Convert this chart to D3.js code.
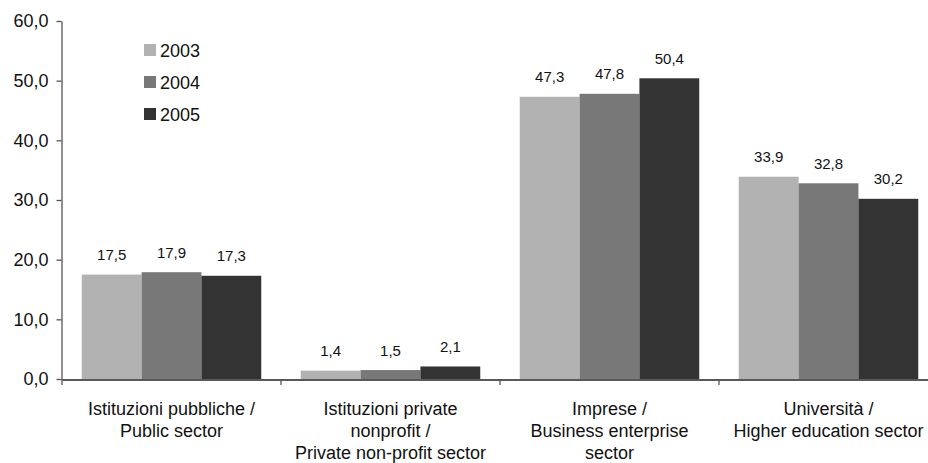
<!DOCTYPE html>
<html>
<head>
<meta charset="utf-8">
<script src="https://cdn.jsdelivr.net/npm/d3@7"></script>
<style>
  html, body { margin: 0; padding: 0; background: #fff; }
  svg { display: block; font-family: "Liberation Sans", Arial, sans-serif; }
</style>
</head>
<body>
<svg id="chart" width="928" height="463"></svg>
<script>
const categories = [
  ["Istituzioni pubbliche /", "Public sector"],
  ["Istituzioni private", "nonprofit /", "Private non-profit sector"],
  ["Imprese /", "Business enterprise", "sector"],
  ["Università /", "Higher education sector"]
];
const years = ["2003", "2004", "2005"];
const values2003 = [17.5, 1.4, 47.3, 33.9];
const values2004 = [17.9, 1.5, 47.8, 32.8];
const values2005 = [17.3, 2.1, 50.4, 30.2];
const yTicks = [0, 10, 20, 30, 40, 50, 60];
const colors = ["#b2b2b2", "#787878", "#333333"];

(function () {
const series = [values2003, values2004, values2005];
const catKeys = categories.map((c, i) => i);

const svg = d3.select("#chart");
const mLeft = 62, mRight = 938, mTop = 21, mBottom = 379;

const x0 = d3.scaleBand().domain(catKeys).range([mLeft, mRight]).padding(0);
const x1 = d3.scaleBand().domain(years).range([0, x0.bandwidth()]).paddingInner(0).paddingOuter(0.33);
const y = d3.scaleLinear().domain([0, 60]).range([mBottom, mTop]);

const fmt = d => d.toFixed(1).replace(".", ",");

// bars
years.forEach((yr, si) => {
  svg.append("g").selectAll("rect")
    .data(catKeys)
    .join("rect")
    .attr("x", c => x0(c) + x1(yr))
    .attr("y", c => y(series[si][c]))
    .attr("width", x1.bandwidth())
    .attr("height", c => y(0) - y(series[si][c]))
    .attr("fill", colors[si]);
  svg.append("g").selectAll("text")
    .data(catKeys)
    .join("text")
    .attr("x", c => x0(c) + x1(yr) + x1.bandwidth() / 2)
    .attr("y", c => y(series[si][c]) - 14.5)
    .attr("text-anchor", "middle")
    .attr("font-size", 15)
    .attr("fill", "#111")
    .text(c => fmt(series[si][c]));
});

// y axis
const yAxis = svg.append("g")
  .attr("transform", `translate(${mLeft - 0.5},0)`)
  .call(d3.axisLeft(y).tickValues(yTicks).tickFormat(fmt).tickSize(5).tickSizeOuter(0).tickPadding(8));
yAxis.select(".domain").attr("stroke", "#555").attr("stroke-width", 1.3);
yAxis.selectAll(".tick line").attr("stroke", "#555").attr("stroke-width", 1.3);
yAxis.selectAll(".tick text").attr("font-size", 18).attr("fill", "#111").attr("font-family", "Liberation Sans, Arial, sans-serif");

// x axis
const xAxis = svg.append("g")
  .attr("transform", `translate(0,${mBottom + 0.5})`)
  .call(d3.axisBottom(x0).tickSize(0).tickSizeOuter(0).tickFormat(""));
xAxis.select(".domain").attr("stroke", "#222").attr("stroke-width", 1.3);
xAxis.selectAll(".tick text").remove();

// boundary ticks
svg.append("g").selectAll("line")
  .data(catKeys.concat([catKeys.length]))
  .join("line")
  .attr("x1", c => mLeft + c * x0.step())
  .attr("x2", c => mLeft + c * x0.step())
  .attr("y1", mBottom)
  .attr("y2", mBottom + 6)
  .attr("stroke", "#555")
  .attr("stroke-width", 1.3);

// category labels
const labels = svg.append("g").selectAll("text")
  .data(catKeys)
  .join("text")
  .attr("text-anchor", "middle")
  .attr("font-size", 18)
  .attr("fill", "#111");
labels.each(function(c) {
  const t = d3.select(this);
  categories[c].forEach((line, li) => {
    t.append("tspan")
      .attr("x", x0(c) + x0.bandwidth() / 2)
      .attr("y", 415 + li * 22)
      .text(line);
  });
});

// legend
const legend = svg.append("g").attr("transform", "translate(144,44)");
years.forEach((yr, i) => {
  const g = legend.append("g").attr("transform", `translate(0,${i * 32})`);
  g.append("rect").attr("width", 12).attr("height", 12).attr("fill", colors[i]);
  g.append("text").attr("x", 16).attr("y", 12.5).attr("font-size", 18).attr("fill", "#111").text(yr);
});
})();
</script>
</body>
</html>
